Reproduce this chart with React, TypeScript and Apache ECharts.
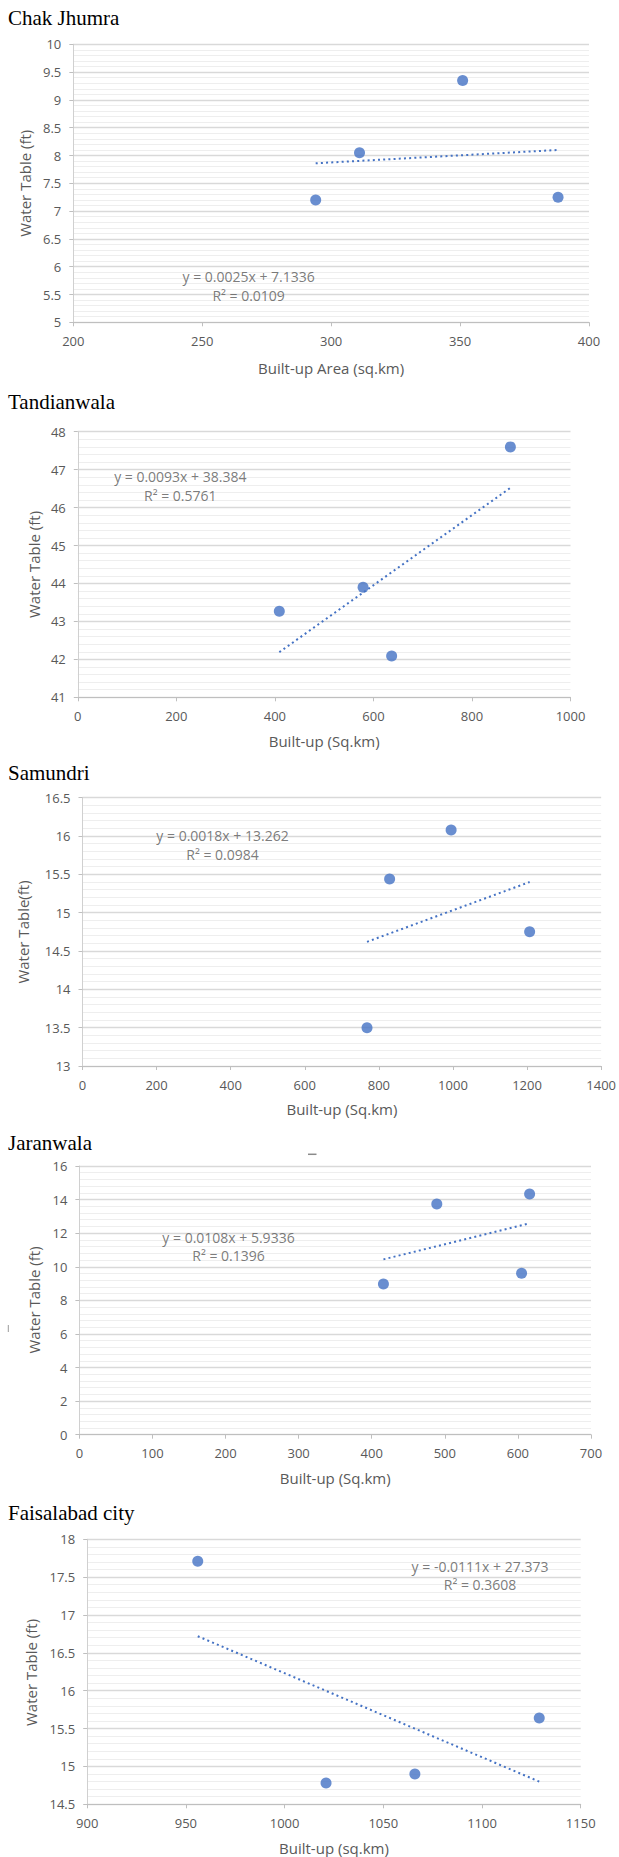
import React, { useEffect, useRef } from "react";
import * as echarts from "echarts";

// ---------- Data ----------
const titles = ["Chak Jhumra", "Tandianwala", "Samundri", "Jaranwala", "Faisalabad city"];
const xTitles = ["Built-up Area (sq.km)", "Built-up (Sq.km)", "Built-up (Sq.km)", "Built-up (Sq.km)", "Built-up (sq.km)"];
const yTitles = ["Water Table (ft)", "Water Table (ft)", "Water Table(ft)", "Water Table (ft)", "Water Table (ft)"];

const chakX = [294, 311, 351, 388];
const chakY = [7.2, 8.05, 9.35, 7.25];
const tandX = [409, 579, 637, 878];
const tandY = [43.27, 43.9, 42.09, 47.6];
const samX = [768, 829, 995, 1207];
const samY = [13.5, 15.44, 16.08, 14.75];
const jarX = [416, 489, 605, 616];
const jarY = [8.97, 13.74, 9.61, 14.33];
const faisX = [956, 1021, 1066, 1129];
const faisY = [17.71, 14.78, 14.9, 15.64];

// trend line endpoints: [x1, y1, x2, y2]
const chakTrend = [294, 7.86, 388, 8.1];
const tandTrend = [409, 42.19, 878, 46.52];
const samTrend = [768, 14.62, 1207, 15.4];
const jarTrend = [416, 10.44, 616, 12.59];
const faisTrend = [956, 16.72, 1129, 14.8];

const equations = [
  "y = 0.0025x + 7.1336\nR² = 0.0109",
  "y = 0.0093x + 38.384\nR² = 0.5761",
  "y = 0.0018x + 13.262\nR² = 0.0984",
  "y = 0.0108x + 5.9336\nR² = 0.1396",
  "y = -0.0111x + 27.373\nR² = 0.3608",
];
// equation anchor in data coords
const eqAnchors = [
  [268, 5.655],
  [208, 46.57],
  [378, 15.88],
  [204, 11.22],
  [1099, 17.52],
];

// axis ranges: [min, max, interval]
const xRanges = [
  [200, 400, 50],
  [0, 1000, 200],
  [0, 1400, 200],
  [0, 700, 100],
  [900, 1150, 50],
];
const yRanges = [
  [5, 10, 0.5],
  [41, 48, 1],
  [13, 16.5, 0.5],
  [0, 16, 2],
  [14.5, 18, 0.5],
];

const xs = [chakX, tandX, samX, jarX, faisX];
const ys = [chakY, tandY, samY, jarY, faisY];
const trends = [chakTrend, tandTrend, samTrend, jarTrend, faisTrend];

// ---------- Layout ----------
const GRIDS = [
  { left: 73.3, top: 44.3, width: 515.7, height: 278 },
  { left: 77.8, top: 431.7, width: 492.7, height: 265.6 },
  { left: 82.5, top: 797.7, width: 518.8, height: 268.3 },
  { left: 79.4, top: 1166, width: 511.6, height: 268.7 },
  { left: 87.2, top: 1539.3, width: 493.5, height: 265 },
];
const TITLE_Y = [17.5, 401.7, 772.7, 1143.3, 1512.7];
const YTITLE_POS = [
  [24.5, 183.3],
  [33.6, 564.5],
  [22.9, 932],
  [33.6, 1300],
  [30.8, 1672.5],
];
const XTITLE_Y = [368, 740.7, 1109.3, 1478.3, 1848.3];

const SANS = "'Open Sans', 'Noto Sans', sans-serif";
const SERIF = "'Liberation Serif', 'Times New Roman', serif";
const BLUE = "#4472C4";
const GRAY_TEXT = "#595959";

const plainNum = (v: number) => String(v);

function buildOption() {
  const grid: any[] = [];
  const xAxis: any[] = [];
  const yAxis: any[] = [];
  const series: any[] = [];
  const graphic: any[] = [];

  for (let i = 0; i < 5; i++) {
    const g = GRIDS[i];
    grid.push({ left: g.left, top: g.top, width: g.width, height: g.height, containLabel: false });
    const [xmin, xmax, xint] = xRanges[i];
    const [ymin, ymax, yint] = yRanges[i];
    xAxis.push({
      type: "value",
      gridIndex: i,
      min: xmin,
      max: xmax,
      interval: xint,
      axisLine: { show: true, onZero: false, lineStyle: { color: "#bfbfbf", width: 1 } },
      axisTick: { show: true, length: 4, lineStyle: { color: "#bfbfbf" } },
      axisLabel: { color: GRAY_TEXT, fontFamily: SANS, fontSize: 13, margin: 12, formatter: plainNum },
      splitLine: { show: false },
    });
    yAxis.push({
      type: "value",
      gridIndex: i,
      min: ymin,
      max: ymax,
      interval: yint,
      axisLine: { show: true, onZero: false, lineStyle: { color: "#d0d0d0", width: 1 } },
      axisTick: { show: true, length: 4, lineStyle: { color: "#bfbfbf" } },
      axisLabel: { color: GRAY_TEXT, fontFamily: SANS, fontSize: 13, margin: 12, formatter: plainNum },
      splitLine: { show: true, lineStyle: { color: "#d9d9d9", width: 1.3 } },
      minorTick: { show: false, splitNumber: 5 },
      minorSplitLine: { show: true, lineStyle: { color: "#eeeeee", width: 1 } },
    });

    const t = trends[i];
    series.push({
      type: "line",
      xAxisIndex: i,
      yAxisIndex: i,
      data: [
        [t[0], t[1]],
        [t[2], t[3]],
      ],
      symbol: "none",
      lineStyle: { color: BLUE, width: 2, type: [2, 3.2] },
      silent: true,
      z: 2,
    });
    series.push({
      type: "scatter",
      xAxisIndex: i,
      yAxisIndex: i,
      data: xs[i].map((x, k) => [x, ys[i][k]]),
      symbol: "circle",
      symbolSize: 11,
      itemStyle: { color: BLUE },
      z: 3,
    });
    series.push({
      type: "scatter",
      xAxisIndex: i,
      yAxisIndex: i,
      data: [eqAnchors[i]],
      symbol: "circle",
      symbolSize: 1,
      itemStyle: { color: "rgba(0,0,0,0)" },
      silent: true,
      label: {
        show: true,
        position: "inside",
        formatter: equations[i],
        color: GRAY_TEXT,
        fontFamily: SANS,
        fontSize: 14,
        lineHeight: 18.5,
        align: "center",
        verticalAlign: "middle",
      },
      z: 4,
    });

    graphic.push({
      type: "text",
      x: 8,
      y: TITLE_Y[i],
      style: {
        text: titles[i],
        fontFamily: SERIF,
        fontSize: 21,
        fontWeight: "normal",
        fill: "#000",
        align: "left",
        verticalAlign: "middle",
      },
    });
    graphic.push({
      type: "text",
      x: YTITLE_POS[i][0],
      y: YTITLE_POS[i][1],
      rotation: Math.PI / 2,
      style: {
        text: yTitles[i],
        fontFamily: SANS,
        fontSize: 15,
        fill: GRAY_TEXT,
        align: "center",
        verticalAlign: "middle",
      },
    });
    graphic.push({
      type: "text",
      x: g.left + g.width / 2,
      y: XTITLE_Y[i],
      style: {
        text: xTitles[i],
        fontFamily: SANS,
        fontSize: 15,
        fill: GRAY_TEXT,
        align: "center",
        verticalAlign: "middle",
      },
    });
  }

  // small stray marks in the Jaranwala panel
  graphic.push({
    type: "line",
    shape: { x1: 308, y1: 1154.3, x2: 316.5, y2: 1154.3 },
    style: { stroke: "#8a8a8a", lineWidth: 1.5 },
  });
  graphic.push({
    type: "line",
    shape: { x1: 8.3, y1: 1325, x2: 8.3, y2: 1332 },
    style: { stroke: "#9a9a9a", lineWidth: 1 },
  });

  return {
    animation: false,
    backgroundColor: "#ffffff",
    grid,
    xAxis,
    yAxis,
    series,
    graphic,
  };
}

export default function App() {
  const ref = useRef<HTMLDivElement>(null);
  useEffect(() => {
    if (!ref.current) return;
    const chart = echarts.init(ref.current, null, { renderer: "svg" });
    chart.setOption(buildOption() as any);
    return () => chart.dispose();
  }, []);
  return (
    <div
      ref={ref}
      style={{ position: "absolute", left: 0, top: 0, width: 619, height: 1857, background: "#fff" }}
    />
  );
}
